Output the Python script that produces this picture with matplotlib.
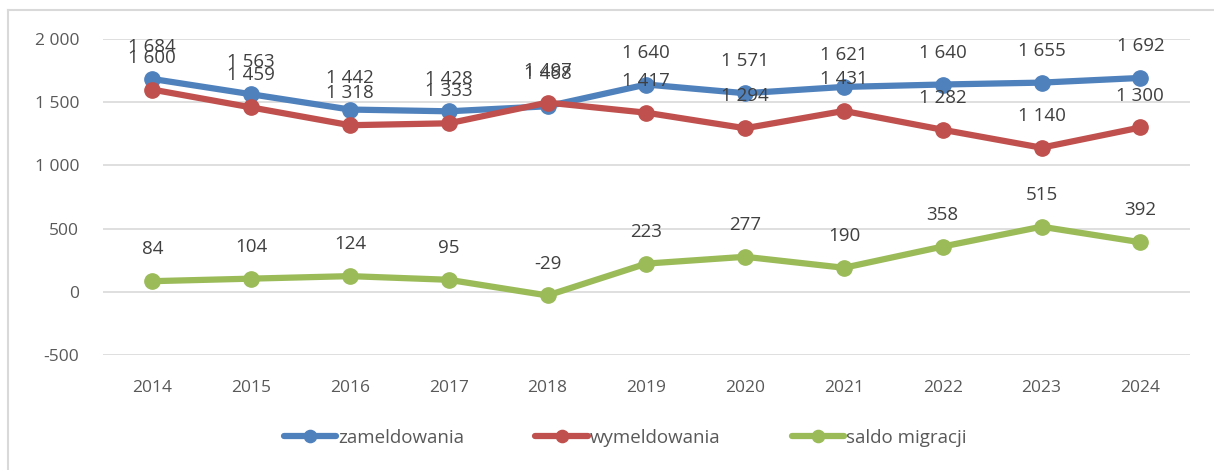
import matplotlib.pyplot as plt
from matplotlib.lines import Line2D
from matplotlib.ticker import FuncFormatter

years = ["2014", "2015", "2016", "2017", "2018", "2019", "2020", "2021", "2022", "2023", "2024"]
zameldowania = [1684, 1563, 1442, 1428, 1468, 1640, 1571, 1621, 1640, 1655, 1692]
wymeldowania = [1600, 1459, 1318, 1333, 1497, 1417, 1294, 1431, 1282, 1140, 1300]
saldo = [84, 104, 124, 95, -29, 223, 277, 190, 358, 515, 392]

series = [
    ("zameldowania", zameldowania, "#4F81BD"),
    ("wymeldowania", wymeldowania, "#C0504D"),
    ("saldo migracji", saldo, "#9BBB59"),
]

def fmt(v):
    return f"{int(v):,}".replace(",", " ")

plt.rcParams['font.family'] = ['Open Sans', 'DejaVu Sans']

fig = plt.figure(figsize=(12.14, 4.70), dpi=100)
ax = fig.add_axes([0.0848, 0.2447, 0.8952, 0.6723])

x = list(range(len(years)))
for name, vals, col in series:
    ax.plot(x, vals, color=col, lw=4.5, marker='o', ms=11, label=name,
            solid_capstyle='round')
    for xi, v in zip(x, vals):
        ax.annotate(fmt(v), (xi, v), xytext=(0, 23), textcoords='offset points',
                    ha='center', va='center', fontsize=13.5, color='#404040')

ax.set_xlim(-0.5, len(years) - 0.5)
ax.set_ylim(-500, 2000)
ax.set_yticks([-500, 0, 500, 1000, 1500, 2000])
ax.yaxis.set_major_formatter(FuncFormatter(lambda v, p: fmt(v)))
ax.set_xticks(x)
ax.set_xticklabels(years)
ax.tick_params(axis='both', length=0, labelsize=12.5, labelcolor='#595959')
ax.tick_params(axis='y', pad=17)
ax.tick_params(axis='x', pad=18)
ax.grid(axis='y', color='#D9D9D9', lw=1.2)
ax.set_axisbelow(True)
for s in ax.spines.values():
    s.set_visible(False)

fig.legend(*ax.get_legend_handles_labels(), loc='center', bbox_to_anchor=(0.515, 0.068),
           ncol=3, frameon=False, fontsize=13.5, handlelength=2.8, handletextpad=0.1,
           columnspacing=3.8, markerscale=0.8, labelcolor='#595959')

# chart frame (Excel-style border)
fig.add_artist(Line2D([8 / 1214, 1.0], [1 - 10 / 470] * 2, color='#D9D9D9', lw=1.5))
fig.add_artist(Line2D([8 / 1214] * 2, [0, 1 - 10 / 470], color='#D9D9D9', lw=1.5))

fig.savefig("out.png", dpi=100)
